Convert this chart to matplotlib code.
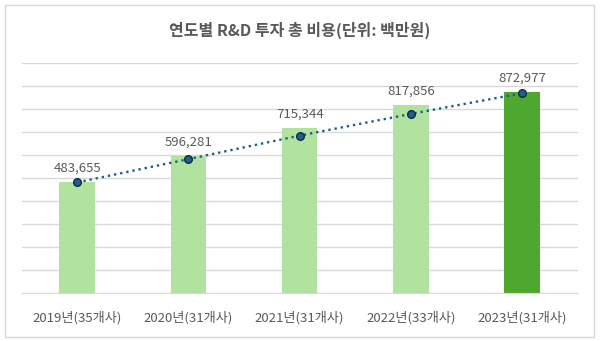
import matplotlib.pyplot as plt
from matplotlib.patches import Rectangle

plt.rcParams['font.family'] = ['Noto Sans CJK KR', 'DejaVu Sans']

# data
years = ['2019년(35개사)', '2020년(31개사)', '2021년(31개사)', '2022년(33개사)', '2023년(31개사)']
costs = [483655, 596281, 715344, 817856, 872977]
trend = [481000, 582000, 684000, 778000, 868000]
bar_colors = ['#b2e2a0', '#b2e2a0', '#b2e2a0', '#b2e2a0', '#4ea72e']

fig = plt.figure(figsize=(6, 3.41), dpi=100)
fig.patch.set_facecolor('white')
fig.patches.append(Rectangle((5 / 600, 4 / 341), 589 / 600, 332 / 341, transform=fig.transFigure,
                             fill=False, edgecolor='#d9d9d9', linewidth=1))

ax = fig.add_axes([0.036, 0.14, 0.927, 0.676])
x = range(len(years))
ax.bar(x, costs, width=0.32, color=bar_colors, zorder=2)
ax.plot(x, trend, linestyle=':', color='#1f5f80', linewidth=1.7, zorder=3)
ax.plot(x, trend, linestyle='none', marker='o', markersize=5.5,
        markerfacecolor='#1f5f8b', markeredgecolor='#0d2a40', markeredgewidth=1, zorder=4)

for i, v in enumerate(costs):
    ax.annotate(f'{v:,}', (i, v), xytext=(0, 10), textcoords='offset points',
                ha='center', va='center', fontsize=9.5, color='#595959')

ax.set_xlim(-0.5, 4.5)
ax.set_ylim(0, 1000000)
ax.set_yticks(range(0, 1000001, 100000))
ax.yaxis.grid(True, color='#d9d9d9', linewidth=1, zorder=0)
ax.set_axisbelow(True)
ax.tick_params(axis='y', left=False, labelleft=False)
ax.tick_params(axis='x', bottom=False, labelsize=9.5, labelcolor='#595959', pad=9)
ax.set_xticks(list(x))
ax.set_xticklabels(years)
for s in ['top', 'right', 'left']:
    ax.spines[s].set_visible(False)
ax.spines['bottom'].set_color('#d9d9d9')

fig.text(0.5, 0.912, '연도별 R&D 투자 총 비용(단위: 백만원)', ha='center', va='center',
         fontsize=11.5, fontweight='bold', color='#595959')

fig.savefig('out.png', dpi=100)
